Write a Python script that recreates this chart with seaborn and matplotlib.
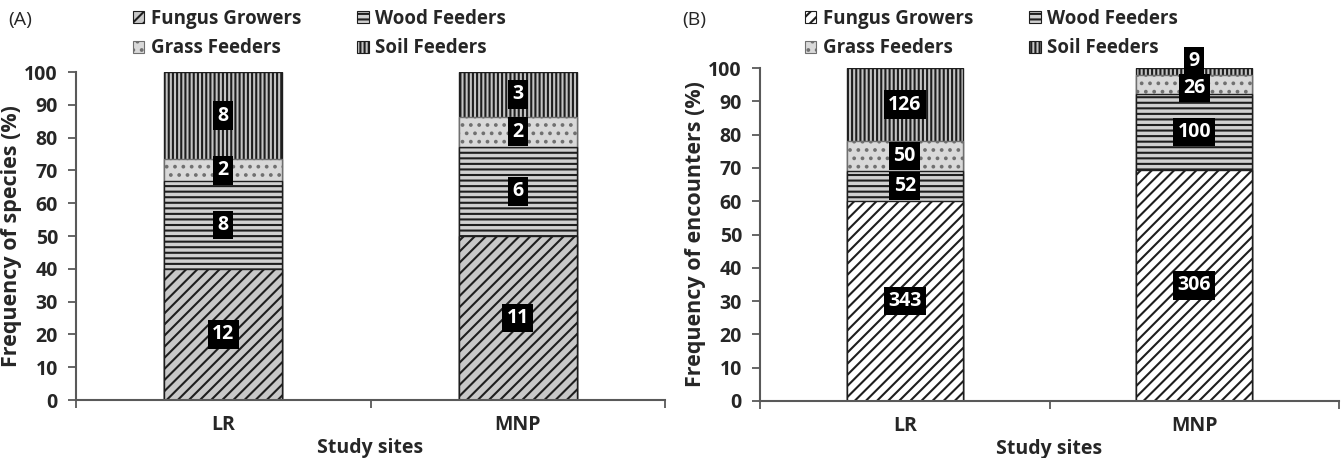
import matplotlib
matplotlib.use("Agg")
import matplotlib.pyplot as plt
from matplotlib import font_manager as fm
import seaborn as sns
import numpy as np
import pandas as pd
from matplotlib.patches import Patch

# ---------------- data ----------------
sites = ["LR", "MNP"]
groups = ["Fungus Growers", "Wood Feeders", "Grass Feeders", "Soil Feeders"]
# Panel A: number of species
species_LR = [12, 8, 2, 8]
species_MNP = [11, 6, 2, 3]
# Panel B: number of encounters
encounters_LR = [343, 52, 50, 126]
encounters_MNP = [306, 100, 26, 9]
yticks = list(range(0, 101, 10))

# ---------------- style ----------------
sns.set_theme(style="ticks")

cands = ["Open Sans", "Noto Sans", "Lato", "Roboto", "Liberation Sans", "DejaVu Sans"]
bold_fams = {f.name for f in fm.fontManager.ttflist
             if (isinstance(f.weight, int) and f.weight >= 600) or
             (isinstance(f.weight, str) and "bold" in f.weight.lower())}
FAM = next((c for c in cands if c in bold_fams), "DejaVu Sans")
plt.rcParams["font.family"] = [FAM, "DejaVu Sans"]
plt.rcParams["hatch.linewidth"] = 1.5

hatches = {"Fungus Growers": "///", "Wood Feeders": "---",
           "Grass Feeders": "..", "Soil Feeders": "||||"}
faces = {"Fungus Growers": "#c8c8c8", "Wood Feeders": "#d0d0d0",
         "Grass Feeders": "#d9d9d9", "Soil Feeders": "#c4c4c4"}
edges = {"Fungus Growers": "#1e1e1e", "Wood Feeders": "#1e1e1e",
         "Grass Feeders": "#707070", "Soil Feeders": "#1e1e1e"}
FS = 14

fig = plt.figure(figsize=(13.41, 4.58), dpi=100)
axA = fig.add_axes([76 / 1341, 1 - 400 / 458, (665 - 76) / 1341, (400 - 72) / 458])
axB = fig.add_axes([760 / 1341, 1 - 401 / 458, (1339 - 760) / 1341, (401 - 68) / 458])


def draw(ax, counts, fungus_face, ylabel, nudges):
    counts = np.array(counts, dtype=float)          # sites x groups
    pct = counts / counts.sum(axis=1, keepdims=True) * 100
    cum = np.cumsum(pct, axis=1)
    for gi in reversed(range(len(groups))):
        g = groups[gi]
        face = fungus_face if g == "Fungus Growers" else faces[g]
        df = pd.DataFrame({"site": sites, "val": cum[:, gi]})
        sns.barplot(data=df, x="site", y="val", color=face, width=0.4,
                    saturation=1, edgecolor=edges[g], linewidth=1.0,
                    hatch=hatches[g], errorbar=None, ax=ax)
    for si in range(len(sites)):
        for gi in range(len(groups)):
            yc = cum[si, gi] - pct[si, gi] / 2 + nudges.get((si, gi), 0)
            ax.text(si, yc, str(int(counts[si, gi])), ha="center", va="center",
                    color="white", fontweight="bold", fontsize=FS, zorder=10,
                    bbox=dict(boxstyle="square,pad=0.22", fc="black", ec="none"))
    ax.set_ylim(0, 100)
    ax.set_xlim(-0.5, 1.5)
    ax.set_yticks(yticks)
    ax.set_yticklabels([str(t) for t in yticks], fontweight="bold", fontsize=FS)
    ax.set_xticks([-0.5, 0.5, 1.5])
    ax.set_xticklabels([])
    ax.set_xticks([0, 1], minor=True)
    ax.set_xticklabels(sites, minor=True, fontweight="bold", fontsize=FS)
    ax.tick_params(axis="x", which="minor", length=0, pad=11)
    ax.tick_params(axis="x", which="major", length=6, width=1.3, color="#595959")
    ax.tick_params(axis="y", length=6, width=1.3, color="#595959", pad=7)
    ax.set_xlabel("Study sites", fontweight="bold", fontsize=FS, labelpad=2)
    ax.set_ylabel(ylabel, fontweight="bold", fontsize=15.5, labelpad=2)
    sns.despine(ax=ax)
    for s in ("left", "bottom"):
        ax.spines[s].set_color("#595959")
        ax.spines[s].set_linewidth(1.5)


draw(axA, [species_LR, species_MNP], faces["Fungus Growers"],
     "Frequency of species (%)", {})
draw(axB, [encounters_LR, encounters_MNP], "white",
     "Frequency of encounters (%)", {(1, 3): 3.0, (1, 2): -1.0})


def legend(x, fungus_face):
    order = ["Fungus Growers", "Grass Feeders", "Wood Feeders", "Soil Feeders"]
    handles = [Patch(facecolor=(fungus_face if g == "Fungus Growers" else faces[g]),
                     edgecolor=edges[g], hatch=hatches[g], linewidth=0.8) for g in order]
    fig.legend(handles, order, ncol=2, loc="upper left",
               bbox_to_anchor=(x, 1 - 9 / 458), frameon=False,
               prop=dict(weight="bold", size=13.5), handlelength=0.6,
               handleheight=0.6, handletextpad=0.35, columnspacing=3.0,
               labelspacing=0.5, borderpad=0, borderaxespad=0)


legend(133 / 1341, faces["Fungus Growers"])
legend(805 / 1341, "white")

fig.text(8 / 1341, 1 - 20 / 458, "(A)", fontsize=FS, va="center", ha="left")
fig.text(682 / 1341, 1 - 20 / 458, "(B)", fontsize=FS, va="center", ha="left")

fig.savefig("out.png", dpi=100)
